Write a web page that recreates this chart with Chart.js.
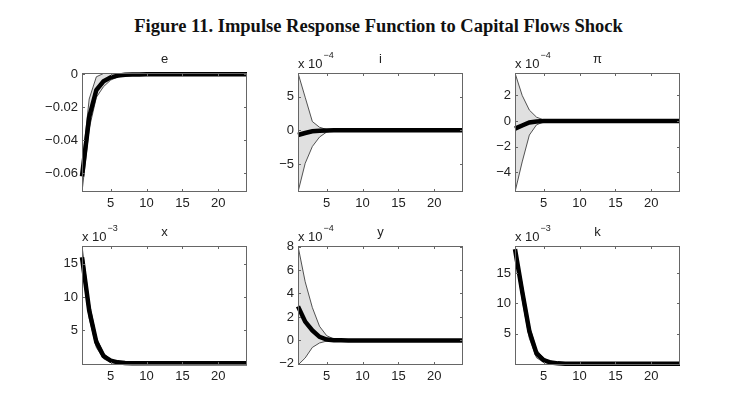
<!DOCTYPE html>
<html>
<head>
<meta charset="utf-8">
<script src="https://cdn.jsdelivr.net/npm/chart.js@4.4.1/dist/chart.umd.min.js"></script>
<style>
    html, body { margin: 0; padding: 0; background: #fff; }
    #wrap { position: relative; width: 748px; height: 408px; overflow: hidden; }
    #title {
        position: absolute; left: 0; top: 17px; width: 757px; text-align: center;
        font: bold 18.5px "Liberation Serif", "Times New Roman", serif; line-height: 18px; color: #111;
    }
    canvas { position: absolute; }
</style>
</head>
<body>
<div id="wrap">
    <div id="title">Figure 11. Impulse Response Function to Capital Flows Shock</div>
    <canvas id="c_e" width="220" height="166" style="left:32px;top:48px"></canvas>
    <canvas id="c_i" width="220" height="166" style="left:248px;top:48px"></canvas>
    <canvas id="c_pi" width="220" height="166" style="left:465px;top:48px"></canvas>
    <canvas id="c_x" width="220" height="166" style="left:32px;top:221px"></canvas>
    <canvas id="c_y" width="220" height="166" style="left:248px;top:221px"></canvas>
    <canvas id="c_k" width="220" height="166" style="left:465px;top:221px"></canvas>
</div>
<script>
// horizon (quarters)
const periods = [1, 2, 3, 4, 5, 6, 7, 8, 9, 10, 11, 12, 13, 14, 15, 16, 17, 18, 19, 20, 21, 22, 23, 24];
const periodTicks = [5, 10, 15, 20];

// e (levels)
const eMean  = [-0.062, -0.026, -0.0095, -0.0042, -0.0018, -0.0008, -0.0003, -0.00012, -0.00005, -0.00002, 0, 0, 0, 0, 0, 0, 0, 0, 0, 0, 0, 0, 0, 0];
const eUpper = [-0.056, -0.015, -0.0015, 0.0005, 0.0008, 0.0005, 0.0003, 0.00012, 0.00005, 0.00002, 0, 0, 0, 0, 0, 0, 0, 0, 0, 0, 0, 0, 0, 0];
const eLower = [-0.0715, -0.033, -0.014, -0.0075, -0.0035, -0.0016, -0.0007, -0.0003, -0.00012, -0.00005, -0.00002, 0, 0, 0, 0, 0, 0, 0, 0, 0, 0, 0, 0, 0];
const eTicks = [-0.06, -0.04, -0.02, 0];

// i (x 10^-4)
const iMean  = [-0.7, -0.4, -0.15, -0.05, -0.015, -0.005, 0, 0, 0, 0, 0, 0, 0, 0, 0, 0, 0, 0, 0, 0, 0, 0, 0, 0];
const iUpper = [8.5, 4.9, 1.3, 0.45, 0.12, 0.03, 0.01, 0, 0, 0, 0, 0, 0, 0, 0, 0, 0, 0, 0, 0, 0, 0, 0, 0];
const iLower = [-9.15, -4.9, -2.4, -1.0, -0.25, -0.06, -0.015, 0, 0, 0, 0, 0, 0, 0, 0, 0, 0, 0, 0, 0, 0, 0, 0, 0];
const iTicks = [-5, 0, 5];

// pi (x 10^-4)
const piMean  = [-0.6, -0.35, -0.12, -0.04, -0.01, 0, 0, 0, 0, 0, 0, 0, 0, 0, 0, 0, 0, 0, 0, 0, 0, 0, 0, 0];
const piUpper = [3.75, 2.0, 0.85, 0.3, 0.08, 0.02, 0, 0, 0, 0, 0, 0, 0, 0, 0, 0, 0, 0, 0, 0, 0, 0, 0, 0];
const piLower = [-5.55, -3.2, -1.1, -0.3, -0.07, -0.02, 0, 0, 0, 0, 0, 0, 0, 0, 0, 0, 0, 0, 0, 0, 0, 0, 0, 0];
const piTicks = [-4, -2, 0, 2];

// x (x 10^-3)
const xMean  = [16.0, 8.0, 3.2, 1.1, 0.4, 0.15, 0.05, 0.02, 0.01, 0, 0, 0, 0, 0, 0, 0, 0, 0, 0, 0, 0, 0, 0, 0];
const xUpper = [17.7, 9.2, 3.9, 1.5, 0.6, 0.25, 0.1, 0.04, 0.02, 0.01, 0, 0, 0, 0, 0, 0, 0, 0, 0, 0, 0, 0, 0, 0];
const xLower = [14.6, 6.8, 2.4, 0.7, 0.15, 0.05, 0.01, 0, 0, 0, 0, 0, 0, 0, 0, 0, 0, 0, 0, 0, 0, 0, 0, 0];
const xTicks = [5, 10, 15];

// y (x 10^-4)
const yMean  = [2.9, 1.6, 0.85, 0.3, 0.07, 0.02, 0.005, 0, 0, 0, 0, 0, 0, 0, 0, 0, 0, 0, 0, 0, 0, 0, 0, 0];
const yUpper = [8.05, 5.0, 2.8, 1.2, 0.4, 0.12, 0.04, 0.01, 0, 0, 0, 0, 0, 0, 0, 0, 0, 0, 0, 0, 0, 0, 0, 0];
const yLower = [-2.1, -1.5, -0.6, -0.22, -0.06, -0.01, 0, 0, 0, 0, 0, 0, 0, 0, 0, 0, 0, 0, 0, 0, 0, 0, 0, 0];
const yTicks = [-2, 0, 2, 4, 6, 8];

// k (x 10^-3)
const kMean  = [19.0, 12.0, 5.4, 1.7, 0.6, 0.2, 0.07, 0.02, 0.01, 0, 0, 0, 0, 0, 0, 0, 0, 0, 0, 0, 0, 0, 0, 0];
const kUpper = [19.5, 13.2, 6.3, 2.3, 0.9, 0.35, 0.12, 0.05, 0.02, 0.01, 0, 0, 0, 0, 0, 0, 0, 0, 0, 0, 0, 0, 0, 0];
const kLower = [18.3, 10.6, 4.2, 1.0, 0.25, 0.08, 0.02, 0, 0, 0, 0, 0, 0, 0, 0, 0, 0, 0, 0, 0, 0, 0, 0, 0];
const kTicks = [5, 10, 15];

const FONT = '"Liberation Sans", Arial, Helvetica, sans-serif';
const AXIS_COLOR = '#666';

// matlab-ish box: frame, inward ticks on all four sides, title and "x 10^n" multiplier
const matlabAxes = {
    id: 'matlabAxes',
    afterDraw(chart, args, opts) {
        const { ctx, chartArea: a, scales } = chart;
        ctx.save();
        ctx.strokeStyle = AXIS_COLOR;
        ctx.lineWidth = 1;
        ctx.strokeRect(a.left + 0.5, a.top + 0.5, a.right - a.left - 1, a.bottom - a.top - 1);
        ctx.beginPath();
        scales.x.ticks.forEach(t => {
            const px = Math.round(scales.x.getPixelForValue(t.value)) + 0.5;
            ctx.moveTo(px, a.bottom); ctx.lineTo(px, a.bottom - 3);
            ctx.moveTo(px, a.top); ctx.lineTo(px, a.top + 3);
        });
        scales.y.ticks.forEach(t => {
            const py = Math.round(scales.y.getPixelForValue(t.value)) + 0.5;
            ctx.moveTo(a.left, py); ctx.lineTo(a.left + 3, py);
            ctx.moveTo(a.right, py); ctx.lineTo(a.right - 3, py);
        });
        ctx.stroke();

        ctx.fillStyle = '#222';
        ctx.font = '13px ' + FONT;
        ctx.textAlign = 'center';
        ctx.fillText(opts.title, (a.left + a.right) / 2, a.top - 10);

        if (opts.exp) {
            ctx.textAlign = 'left';
            ctx.fillText('x 10', a.left, a.top - 5);
            const w = ctx.measureText('x 10').width;
            ctx.font = '9px ' + FONT;
            ctx.fillText('\u2212' + Math.abs(opts.exp), a.left + w + 1, a.top - 15);
        }
        ctx.restore();
    }
};

function fmt(v) {
    return String(v).replace('-', '\u2212');
}

function makePanel(id, title, exp, mean, upper, lower, yTickVals, yMin, yMax) {
    const pts = arr => periods.map((p, i) => ({ x: p, y: arr[i] }));
    new Chart(document.getElementById(id).getContext('2d'), {
        type: 'line',
        data: {
            datasets: [
                { data: pts(mean), borderColor: '#000', borderWidth: 4.5, pointRadius: 0, fill: false, clip: 3 },
                { data: pts(upper), borderColor: '#2a2a2a', borderWidth: 0.8, pointRadius: 0, fill: '+1', backgroundColor: '#e0e0e0' },
                { data: pts(lower), borderColor: '#2a2a2a', borderWidth: 0.8, pointRadius: 0, fill: false }
            ]
        },
        options: {
            responsive: false,
            animation: false,
            devicePixelRatio: 1,
            layout: { padding: { left: 0, right: 5, top: 25, bottom: 0 } },
            plugins: {
                legend: { display: false },
                tooltip: { enabled: false },
                filler: { drawTime: 'beforeDatasetsDraw' },
                matlabAxes: { title: title, exp: exp }
            },
            scales: {
                x: {
                    type: 'linear', min: 1, max: 24,
                    grid: { display: false, drawTicks: false },
                    border: { display: false },
                    afterBuildTicks: s => { s.ticks = periodTicks.map(v => ({ value: v })); },
                    afterFit: s => { s.height = 22; },
                    ticks: { color: '#222', font: { family: FONT, size: 13 }, padding: 4, maxRotation: 0, autoSkip: false }
                },
                y: {
                    type: 'linear', min: yMin, max: yMax,
                    grid: { display: false, drawTicks: false },
                    border: { display: false },
                    afterBuildTicks: s => { s.ticks = yTickVals.map(v => ({ value: v })); },
                    afterFit: s => { s.width = 50; },
                    ticks: { color: '#222', font: { family: FONT, size: 13 }, padding: 4, autoSkip: false, callback: v => fmt(v) }
                }
            }
        },
        plugins: [matlabAxes]
    });
}

makePanel('c_e', 'e', null, eMean, eUpper, eLower, eTicks, -0.0715, 0.0008);
makePanel('c_i', 'i', -4, iMean, iUpper, iLower, iTicks, -9.15, 8.5);
makePanel('c_pi', '\u03c0', -4, piMean, piUpper, piLower, piTicks, -5.55, 3.75);
makePanel('c_x', 'x', -3, xMean, xUpper, xLower, xTicks, -0.25, 17.7);
makePanel('c_y', 'y', -4, yMean, yUpper, yLower, yTicks, -2.1, 8.05);
makePanel('c_k', 'k', -3, kMean, kUpper, kLower, kTicks, -0.2, 19.5);
</script>
</body>
</html>
